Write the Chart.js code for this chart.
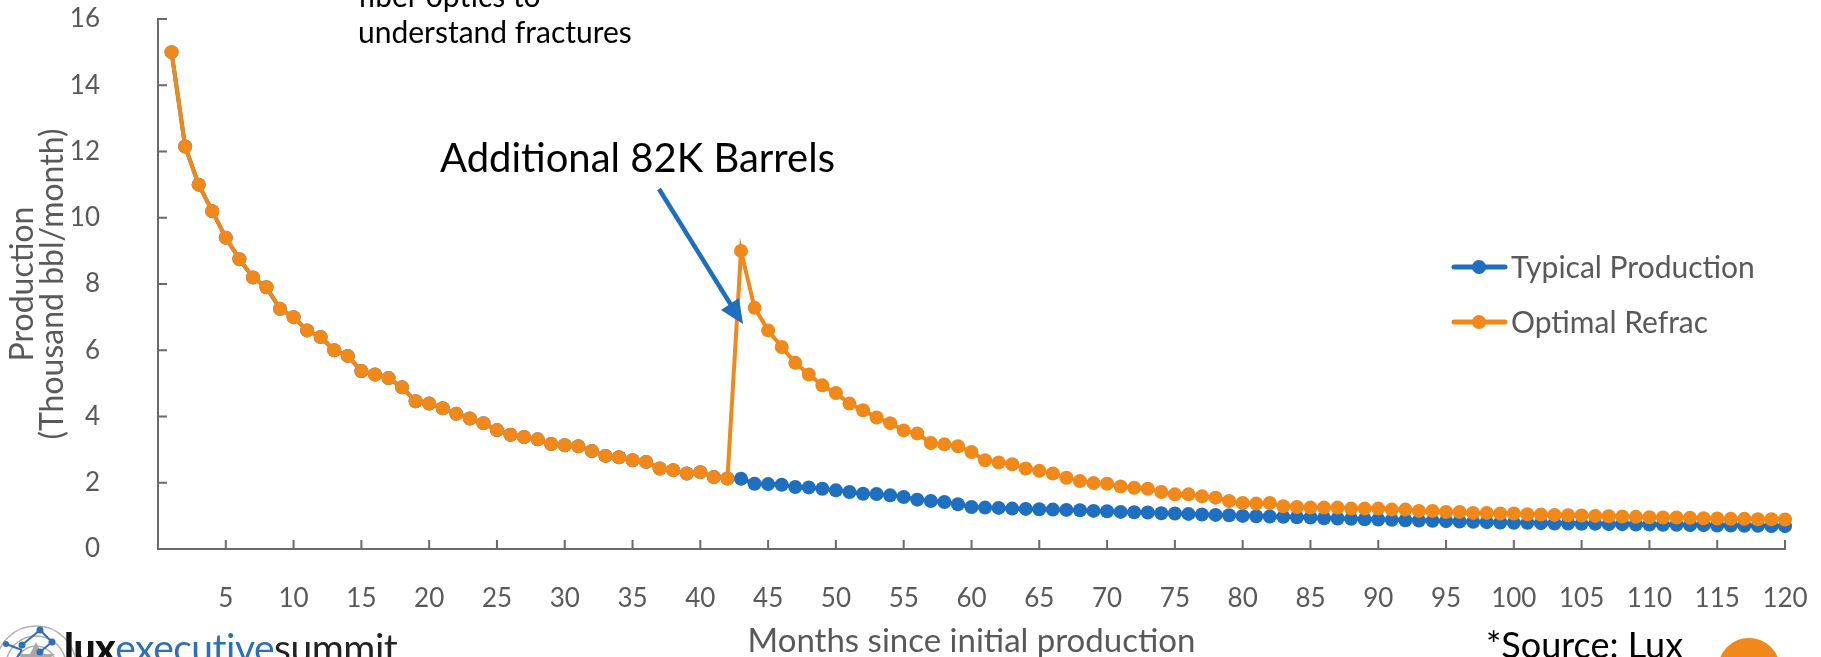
<!DOCTYPE html>
<html>
<head>
<meta charset="utf-8">
<script src="https://cdn.jsdelivr.net/npm/chart.js@4.4.1/dist/chart.umd.min.js"></script>
<style>
  html, body { margin: 0; padding: 0; background: #ffffff; overflow: hidden; }
  #wrap { position: relative; width: 1821px; height: 657px; overflow: hidden; font-family: Lato, "Open Sans", sans-serif; }
  #chart { position: absolute; left: 0; top: 0; }
  .note { position: absolute; white-space: nowrap; color: #000; font-family: Lato, sans-serif; }
</style>
</head>
<body>
<div id="wrap">
  <canvas id="chart" width="1821" height="657"></canvas>

  <div class="note" style="left:358px; top:-23px; font-size:30px; line-height:36px;">fiber optics to<br>understand fractures</div>
  <div class="note" style="left:440px; top:137px; font-size:40px; line-height:40px;">Additional 82K Barrels</div>
  <svg style="position:absolute;left:0;top:0" width="1821" height="657">
    <line x1="659" y1="189" x2="731" y2="305" stroke="#1F6FC0" stroke-width="4.5"/>
    <polygon points="743,324 739,298 721,310" fill="#1F6FC0"/>
    <circle cx="1749" cy="669" r="31" fill="#F0881A"/>
    <!-- logo icon -->
    <g fill="none" stroke="#b0b0b0" stroke-width="1.5">
      <circle cx="36" cy="666" r="20"/>
      <circle cx="36" cy="666" r="30"/>
      <circle cx="36" cy="666" r="40"/>
    </g>
    <polygon points="36,642 42,654 55,654 45,662 49,674 36,667 23,674 27,662 17,654 30,654" fill="#a8a8a8"/>
    <g stroke="#2F6EBA" stroke-width="2">
      <line x1="22" y1="645" x2="40" y2="630"/>
      <line x1="40" y1="630" x2="52" y2="642"/>
      <line x1="52" y1="642" x2="40" y2="652"/>
      <line x1="6" y1="644" x2="22" y2="650"/>
      <line x1="22" y1="650" x2="16" y2="659"/>
    </g>
    <g fill="#2F6EBA">
      <circle cx="22" cy="645" r="3.5"/>
      <circle cx="40" cy="630" r="3.5"/>
      <circle cx="52" cy="642" r="3.5"/>
      <circle cx="40" cy="652" r="3.5"/>
      <circle cx="6" cy="644" r="3"/>
    </g>
  </svg>
  <div class="note" style="left:64px; top:627px; font-size:39px; line-height:40px; letter-spacing:-0.5px;"><span style="font-weight:900;color:#111">lux</span><span style="color:#2F6EBA">executive</span><span style="color:#222">summit</span></div>
  <div class="note" style="left:1486px; top:625px; font-size:36px; line-height:38px;">*Source: Lux</div>
</div>

<script>
// ---- data ----
const months = Array.from({length: 120}, (_, i) => i + 1);
const xTickStep = 5;
const yTicks = [0, 2, 4, 6, 8, 10, 12, 14, 16];
const seriesNames = ['Typical Production', 'Optimal Refrac'];

const typicalProduction = [
  15.0, 12.15, 11.0, 10.2, 9.4, 8.75, 8.2, 7.9, 7.25, 7.0,
  6.6, 6.4, 6.0, 5.83, 5.37, 5.27, 5.16, 4.88, 4.46, 4.39,
  4.25, 4.08, 3.94, 3.8, 3.59, 3.45, 3.38, 3.31, 3.17, 3.13,
  3.1, 2.96, 2.81, 2.77, 2.68, 2.63, 2.43, 2.38, 2.28, 2.32,
  2.17, 2.13, 2.12, 1.97, 1.96, 1.94, 1.87, 1.86, 1.82, 1.77,
  1.72, 1.67, 1.66, 1.62, 1.57, 1.49, 1.45, 1.42, 1.35, 1.27,
  1.25, 1.24, 1.22, 1.21, 1.2, 1.19, 1.18, 1.17, 1.15, 1.14,
  1.12, 1.11, 1.1, 1.08, 1.07, 1.06, 1.04, 1.03, 1.02, 1.0,
  0.99, 0.98, 0.97, 0.96, 0.95, 0.93, 0.92, 0.91, 0.9, 0.89,
  0.88, 0.87, 0.86, 0.85, 0.84, 0.83, 0.82, 0.81, 0.8, 0.79,
  0.79, 0.78, 0.77, 0.77, 0.76, 0.76, 0.75, 0.75, 0.74, 0.74,
  0.73, 0.73, 0.72, 0.72, 0.71, 0.71, 0.7, 0.7, 0.69, 0.69
];

const optimalRefrac = [
  15.0, 12.15, 11.0, 10.2, 9.4, 8.75, 8.2, 7.9, 7.25, 7.0,
  6.6, 6.4, 6.0, 5.83, 5.37, 5.27, 5.16, 4.88, 4.46, 4.39,
  4.25, 4.08, 3.94, 3.8, 3.59, 3.45, 3.38, 3.31, 3.17, 3.13,
  3.1, 2.96, 2.81, 2.77, 2.68, 2.63, 2.43, 2.38, 2.28, 2.32,
  2.17, 2.13, 9.0, 7.28, 6.6, 6.1, 5.62, 5.27, 4.94, 4.71,
  4.39, 4.19, 3.97, 3.8, 3.58, 3.49, 3.2, 3.16, 3.1, 2.93,
  2.68, 2.61, 2.56, 2.43, 2.36, 2.28, 2.15, 2.05, 1.99, 1.97,
  1.89, 1.85, 1.82, 1.72, 1.65, 1.65, 1.59, 1.55, 1.45, 1.39,
  1.37, 1.39, 1.29, 1.27, 1.25, 1.25, 1.25, 1.22, 1.22, 1.22,
  1.19, 1.19, 1.15, 1.15, 1.12, 1.12, 1.09, 1.09, 1.07, 1.07,
  1.05, 1.04, 1.03, 1.02, 1.01, 1.0, 0.99, 0.98, 0.97, 0.96,
  0.95, 0.95, 0.94, 0.93, 0.92, 0.91, 0.91, 0.9, 0.9, 0.89
];

// ---- styles ----
const BLUE = '#1F6FC0';
const ORANGE = '#F0881A';
const AXIS = '#6a6a6a';
const TEXT = '#595959';
const FONT = 'Lato';

const toPoints = (vals) => months.map((m, i) => ({x: m, y: vals[i]}));

const insideTicks = {
  id: 'insideTicks',
  beforeDatasetsDraw(chart) {
    const {ctx, chartArea, scales: {x, y}} = chart;
    ctx.save();
    ctx.strokeStyle = AXIS;
    ctx.lineWidth = 2;
    ctx.beginPath();
    y.ticks.forEach(t => {
      if (t.value === 0) return;
      const py = y.getPixelForValue(t.value);
      ctx.moveTo(chartArea.left, py);
      ctx.lineTo(chartArea.left + 9, py);
    });
    x.ticks.forEach(t => {
      if (t.value === 0) return;
      const px = x.getPixelForValue(t.value);
      ctx.moveTo(px, chartArea.bottom);
      ctx.lineTo(px, chartArea.bottom - 9);
    });
    ctx.stroke();
    ctx.restore();
  }
};

const customLegend = {
  id: 'customLegend',
  afterDraw(chart) {
    const {ctx} = chart;
    const rows = [267, 322];
    ctx.save();
    chart.data.datasets.forEach((ds, i) => {
      const yy = rows[i];
      ctx.strokeStyle = ds.borderColor;
      ctx.lineWidth = 5;
      ctx.lineCap = 'round';
      ctx.beginPath();
      ctx.moveTo(1454, yy);
      ctx.lineTo(1505, yy);
      ctx.stroke();
      ctx.fillStyle = ds.pointBackgroundColor;
      ctx.beginPath();
      ctx.arc(1479, yy, 7, 0, Math.PI * 2);
      ctx.fill();
      ctx.fillStyle = TEXT;
      ctx.font = '30px ' + FONT;
      ctx.textBaseline = 'middle';
      ctx.textAlign = 'left';
      ctx.fillText(ds.label, 1511, yy + 1);
    });
    ctx.restore();
  }
};

new Chart(document.getElementById('chart'), {
  type: 'line',
  data: {
    datasets: [
      {
        label: seriesNames[0],
        data: toPoints(typicalProduction),
        borderColor: BLUE,
        backgroundColor: BLUE,
        pointBackgroundColor: BLUE,
        pointBorderColor: BLUE,
        borderWidth: 4,
        pointRadius: 7,
        pointBorderWidth: 0,
        tension: 0,
        order: 2,
        clip: false
      },
      {
        label: seriesNames[1],
        data: toPoints(optimalRefrac),
        borderColor: ORANGE,
        backgroundColor: ORANGE,
        pointBackgroundColor: ORANGE,
        pointBorderColor: ORANGE,
        borderWidth: 4,
        pointRadius: 7,
        pointBorderWidth: 0,
        tension: 0,
        order: 1,
        clip: false
      }
    ]
  },
  options: {
    responsive: false,
    animation: false,
    devicePixelRatio: 1,
    layout: { padding: { top: 19, right: 36, left: 0, bottom: 0 } },
    plugins: {
      legend: { display: false },
      tooltip: { enabled: false }
    },
    scales: {
      x: {
        type: 'linear',
        min: 0,
        max: 120,
        afterFit(scale) { scale.height = 108; },
        ticks: {
          stepSize: xTickStep,
          autoSkip: false,
          maxRotation: 0,
          padding: 0,
          color: TEXT,
          font: { family: FONT, size: 26 },
          callback: (v) => (v === 0 ? '' : v)
        },
        grid: { display: true, drawOnChartArea: false, drawTicks: true, tickLength: 34, tickColor: 'rgba(0,0,0,0)' },
        border: { display: true, color: AXIS, width: 2 },
        title: {
          display: true,
          text: 'Months since initial production',
          color: TEXT,
          font: { family: FONT, size: 33, lineHeight: 0.9 },
          padding: { top: 0, bottom: 1 }
        }
      },
      y: {
        type: 'linear',
        min: yTicks[0],
        max: yTicks[yTicks.length - 1],
        afterFit(scale) { scale.width = 158; },
        afterBuildTicks(scale) { scale.ticks = yTicks.map(v => ({value: v})); },
        ticks: {
          padding: 0,
          color: TEXT,
          font: { family: FONT, size: 26 }
        },
        grid: { display: true, drawOnChartArea: false, drawTicks: true, tickLength: 58, tickColor: 'rgba(0,0,0,0)' },
        border: { display: true, color: AXIS, width: 2 },
        title: {
          display: true,
          text: ['Production', '(Thousand bbl/month)'],
          color: TEXT,
          font: { family: FONT, size: 32, lineHeight: 0.95 },
          padding: { top: 7, bottom: 0 }
        }
      }
    }
  },
  plugins: [insideTicks, customLegend]
});
</script>
</body>
</html>
